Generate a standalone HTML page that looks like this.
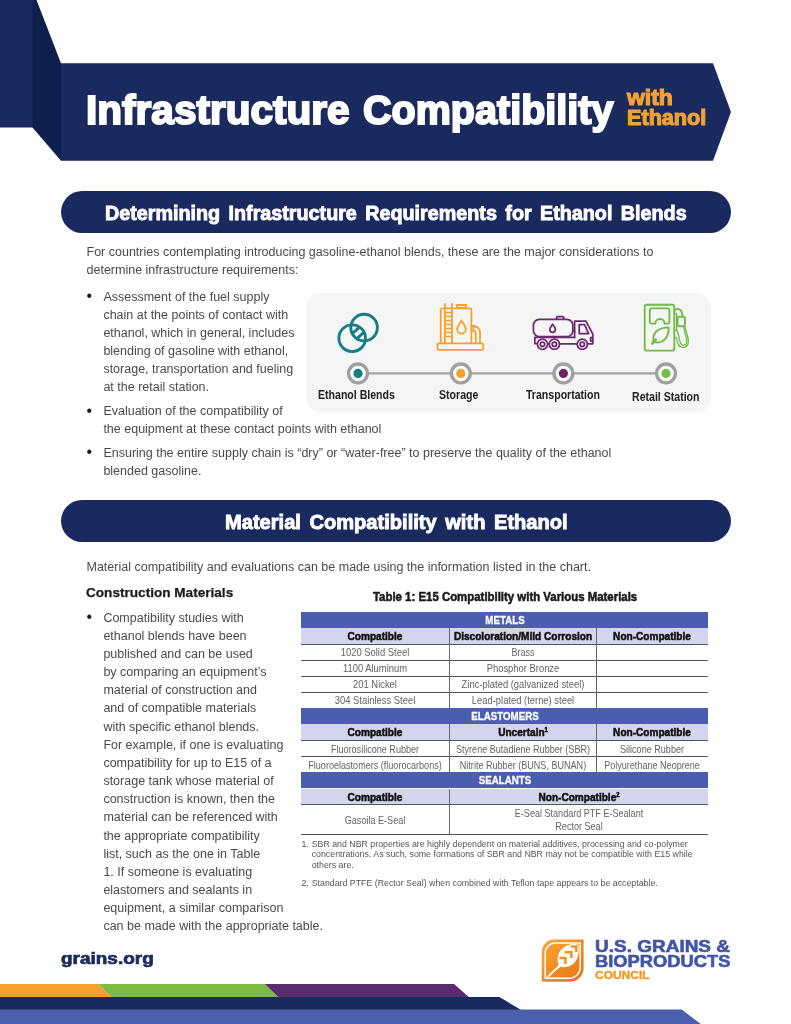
<!DOCTYPE html>
<html lang="en">
<head>
<meta charset="utf-8">
<title>Infrastructure Compatibility with Ethanol</title>
<style>
html,body{margin:0;padding:0;background:#fff;}
body{width:791px;height:1024px;position:relative;overflow:hidden;font-family:"Liberation Sans",sans-serif;color:#3d3d3d;}
.abs{position:absolute;white-space:nowrap;}
.cond{transform-origin:0 0;display:inline-block;}
#bg{position:absolute;left:0;top:0;width:791px;height:1024px;}
.title{left:85.9px;top:85.3px;font-weight:bold;font-size:40.8px;line-height:50px;color:#fff;transform:scaleX(.957);transform-origin:0 0;-webkit-text-stroke:2px #fff;}
.sub{left:627px;font-weight:bold;font-size:22px;line-height:22px;color:#f2a233;transform:scaleX(.91);transform-origin:0 0;-webkit-text-stroke:1.15px #f2a233;}
.pill{position:absolute;left:60.6px;width:670px;height:42.4px;border-radius:21.2px;background:#1b2a5e;}
.ptxt{font-weight:bold;font-size:20px;line-height:24px;color:#fff;transform-origin:0 0;-webkit-text-stroke:0.9px #fff;}
.body{font-size:12.5px;line-height:18.15px;color:#4a4a4a;}
.bul{font-size:15.8px;line-height:18.15px;color:#1a1a1a;}
.lab{font-weight:bold;font-size:12.5px;line-height:14px;color:#222;transform-origin:0 0;}
.th{font-weight:bold;font-size:11.2px;line-height:14px;color:#fff;transform-origin:50% 0;-webkit-text-stroke:0.3px #fff;}
.tsh{font-weight:bold;font-size:11.2px;line-height:14px;color:#111;transform-origin:50% 0;-webkit-text-stroke:0.55px #111;}
.tsh sup{font-size:6.5px;line-height:0;vertical-align:4px;}
.td{font-size:11.2px;line-height:14px;color:#636363;transform-origin:50% 0;}
.fn{font-size:8.8px;line-height:10.3px;color:#555;}
.lg{font-weight:bold;font-size:16.6px;line-height:20px;color:#4055a6;transform-origin:0 0;-webkit-text-stroke:0.6px #4055a6;}
</style>
</head>
<body>
<svg id="bg" viewBox="0 0 791 1024" width="791" height="1024">
  <!-- header -->
  <rect x="0" y="0" width="33" height="127.5" fill="#1b2a5e"/>
  <polygon points="32.5,0 36.5,0 61,63.3 61,160.7 32.5,127.5" fill="#0e1f4e"/>
  <polygon points="60.8,63.3 713,63.3 731,112 713,160.7 60.8,160.7" fill="#1b2a5e"/>

  <!-- infographic panel -->
  <rect x="306" y="293" width="405" height="119.5" rx="15" ry="15" fill="#f5f5f5"/>
  <line x1="358" y1="373.4" x2="666" y2="373.4" stroke="#a3a3a3" stroke-width="2.2"/>
  <g stroke="#a0a0a0" stroke-width="3.3" fill="#fdfdfd">
    <circle cx="358" cy="373.4" r="9.4"/><circle cx="460.8" cy="373.4" r="9.4"/><circle cx="563.4" cy="373.4" r="9.4"/><circle cx="666" cy="373.4" r="9.4"/>
  </g>
  <circle cx="358" cy="373.4" r="4.6" fill="#167c85"/>
  <circle cx="460.8" cy="373.4" r="4.6" fill="#f4a12c"/>
  <circle cx="563.4" cy="373.4" r="4.6" fill="#6a2468"/>
  <circle cx="666" cy="373.4" r="4.6" fill="#73bf44"/>
  <!-- ethanol blends icon -->
  <g fill="none" stroke="#167c85" stroke-width="2.9">
    <circle cx="364.1" cy="327.6" r="13.3"/>
    <circle cx="352.2" cy="338.2" r="13.3"/>
    <path d="M359.2,327.4 L352.4,333.5 M363.9,332.3 L356.9,338.5" stroke-width="3"/>
  </g>
  <!-- storage icon -->
  <g fill="none" stroke="#f4a12c" stroke-width="1.8" stroke-linejoin="round" stroke-linecap="round">
    <rect x="437.6" y="343.4" width="45.6" height="6.4" rx="1"/>
    <path d="M440.7,343 V310.2 a1.8,1.8 0 0 1 1.8,-1.8 H469.6 a1.8,1.8 0 0 1 1.8,1.8 V343"/>
    <path d="M444.9,343 V304 M452,343 V304"/>
    <path d="M444.9,312.5 H452 M444.9,316.5 H452 M444.9,320.5 H452 M444.9,324.5 H452 M444.9,328.5 H452 M444.9,332.5 H452 M444.9,336.5 H452" stroke-width="1.6"/>
    <path d="M456.6,305 H466.4 L465.4,308 H457.6 Z"/>
    <path d="M461.5,320.5 C463.5,324 465.8,326.5 465.8,329.2 a4.3,4.3 0 0 1 -8.6,0 C457.2,326.5 459.5,324 461.5,320.5 Z"/>
    <path d="M471.6,326 H473.5 a6.5,6.5 0 0 1 6.5,6.5 V343 M471.6,330.8 H473.2 a2.6,2.6 0 0 1 2.6,2.6 V343 M473.6,326 V330.8"/>
  </g>
  <!-- truck icon -->
  <g fill="none" stroke="#6c2a6c" stroke-width="1.75" stroke-linejoin="round" stroke-linecap="round">
    <rect x="533.4" y="319.4" width="39.5" height="17.2" rx="6" ry="6"/>
    <path d="M556.6,319.2 V317.4 a0.9,0.9 0 0 1 .9,-.9 H562.8 a0.9,0.9 0 0 1 .9,.9 V319.2"/>
    <path d="M552.6,324.2 C553.8,326.3 555.4,327.8 555.4,329.5 a2.8,2.8 0 0 1 -5.6,0 C549.8,327.8 551.4,326.3 552.6,324.2 Z"/>
    <path d="M574.6,337.4 V321.2 H586 L592.8,334.2 V343.8 H588"/>
    <path d="M579.2,324.6 H584.6 L588.6,333.6 H579.2 Z"/>
    <path d="M572.9,331 H574.6"/>
    <path d="M534.8,337.4 H574.6 M534.8,337.4 V343.6 H537 M548,343.8 H549 M560,343.8 H576.6"/>
    <path d="M590.6,337.6 H592.8 M590.6,341 H592.8 M590.6,337.6 V341"/>
    <circle cx="542.5" cy="344.2" r="5.1"/><circle cx="542.5" cy="344.2" r="2.2"/>
    <circle cx="554.4" cy="344.2" r="5.1"/><circle cx="554.4" cy="344.2" r="2.2"/>
    <circle cx="582.3" cy="344.2" r="5.1"/><circle cx="582.3" cy="344.2" r="2.2"/>
  </g>
  <!-- pump icon -->
  <g fill="none" stroke="#70bb44" stroke-width="1.9" stroke-linejoin="round" stroke-linecap="round">
    <rect x="644.7" y="304.8" width="29.6" height="45.8" rx="2.2"/>
    <path d="M651.4,308.4 H667.8 a1.6,1.6 0 0 1 1.6,1.6 V322 a1.6,1.6 0 0 1 -1.6,1.6 H664.6 a4.6,4.6 0 0 0 -9.2,0 H651.4 a1.6,1.6 0 0 1 -1.6,-1.6 V310 a1.6,1.6 0 0 1 1.6,-1.6 Z"/>
    <path d="M653.6,340.6 C652,333.6 657.6,327.6 668.6,327.4 C669.2,336.2 664.4,343.2 655.4,342.4 Z"/>
    <path d="M655.6,339.8 L652.4,343.4" stroke-width="2.8"/>
    <path d="M674.4,310.4 C676.4,308.2 680.6,308.6 681.6,311.8 L682.6,316"/>
    <rect x="677.6" y="316.8" width="7.4" height="9.4" rx="1.4"/>
    <path d="M674.4,313.6 h2.2 v16.4 h-2.2 M676.6,330 C679.6,333.6 678.4,343.4 682.4,345 C686.6,346 688,341.6 686.2,337.6 L683.4,326.4 M674.4,337.6 h2.2 C677,342.6 679,347.4 683,347.4 C688.6,347.2 689.6,341.4 687.6,336.6 L685,326.4" stroke-width="1.3"/>
  </g>

  <!-- logo -->
  <defs>
    <linearGradient id="lg1" x1="0" y1="0" x2="1" y2="1">
      <stop offset="0" stop-color="#f8a83a"/><stop offset="0.55" stop-color="#f0891c"/><stop offset="1" stop-color="#e2731a"/>
    </linearGradient>
  </defs>
  <path d="M554,939.6 H583.6 V968 A13.7,13.7 0 0 1 569.9,981.7 H541.8 V951.8 A12.2,12.2 0 0 1 554,939.6 Z" fill="url(#lg1)"/>
  <path d="M555.4,943 H580.2 V967.2 A11,11 0 0 1 569.2,978.3 H545.2 V953.2 A10.2,10.2 0 0 1 555.4,943 Z" fill="none" stroke="#fff" stroke-width="1.5"/>
  <path d="M546.8,977 C551,972 555,968.5 558.6,965.2 C555.6,957 559.5,946.6 570.6,944.2 C574.6,943.6 577.6,944.2 578.6,945 C579.6,953.6 577.8,961.6 570.8,965.6 C566.8,967.6 562.8,967.6 560.4,966.8 C556.4,970 552,974 548,977.8 Z" fill="#fff"/>
  <g fill="none" stroke="#f19224" stroke-width="2.5" stroke-linejoin="miter">
    <path d="M570.8,946.6 H576.3 V952"/>
    <path d="M564.6,952.2 H571.4 V958"/>
    <path d="M559.4,958 H565.4 V964"/>
  </g>
  <!-- footer stripes -->
  <polygon points="0,983.9 98,983.9 112.4,998 0,998" fill="#f7a12b"/>
  <polygon points="98,983.9 264.8,983.9 279.2,998 112.4,998" fill="#7fbd42"/>
  <polygon points="264.8,983.9 454,983.9 470,998 279.2,998" fill="#5c2d6e"/>
  <polygon points="0,997.1 499.4,997.1 522,1010.4 0,1010.4" fill="#1b2a5e"/>
  <polygon points="0,1009.5 681.7,1009.5 700.7,1024 0,1024" fill="#4a5fae"/>
</svg>

<div class="abs title" style="transform:scaleX(.994);">Infrastructure</div>
<div class="abs title" style="left:362.6px;transform:scaleX(.969);">Compatibility</div>
<div class="abs sub" style="top:86.6px;transform:scaleX(1.043);">with</div>
<div class="abs sub" style="top:107.2px;transform:scaleX(.983);">Ethanol</div>

<div class="pill" style="top:190.6px;"></div>
<div class="abs ptxt" style="left:105.2px;top:200.5px;word-spacing:3px;transform:scaleX(.9866);">Determining Infrastructure Requirements for Ethanol Blends</div>

<div class="abs body" style="left:86.5px;top:243.2px;">For countries contemplating introducing gasoline-ethanol blends, these are the major considerations to<br>determine infrastructure requirements:</div>

<div class="abs bul" style="left:86.5px;top:286.9px;">•</div>
<div class="abs body" style="left:103.4px;top:287.5px;">Assessment of the fuel supply<br>chain at the points of contact with<br>ethanol, which in general, includes<br>blending of gasoline with ethanol,<br>storage, transportation and fueling<br>at the retail station.</div>
<div class="abs bul" style="left:86.5px;top:401.6px;">•</div>
<div class="abs body" style="left:103.4px;top:402.2px;">Evaluation of the compatibility of<br>the equipment at these contact points with ethanol</div>
<div class="abs bul" style="left:86.5px;top:443.1px;">•</div>
<div class="abs body" style="left:103.4px;top:443.7px;">Ensuring the entire supply chain is “dry” or “water-free” to preserve the quality of the ethanol<br>blended gasoline.</div>


<div class="abs lab" style="left:318px;top:387.6px;transform:scaleX(.845);">Ethanol Blends</div>
<div class="abs lab" style="left:439px;top:387.6px;transform:scaleX(.845);">Storage</div>
<div class="abs lab" style="left:526px;top:388.2px;transform:scaleX(.845);">Transportation</div>
<div class="abs lab" style="left:632px;top:389.6px;transform:scaleX(.845);">Retail Station</div>

<div class="pill" style="top:500px;height:41.8px;"></div>
<div class="abs ptxt" style="left:225.2px;top:509.6px;word-spacing:3px;transform:scaleX(1.004);">Material Compatibility with Ethanol</div>


<div class="abs body" style="left:86.5px;top:557.6px;">Material compatibility and evaluations can be made using the information listed in the chart.</div>
<div class="abs" style="left:86.4px;top:584.6px;font-weight:bold;font-size:13px;line-height:16px;color:#1a1a1a;transform:scaleX(1.045);transform-origin:0 0;-webkit-text-stroke:0.25px #1a1a1a;">Construction Materials</div>
<div class="abs bul" style="left:86.5px;top:608.1px;">•</div>
<div class="abs body" style="left:103.4px;top:608.7px;">Compatibility studies with<br>ethanol blends have been<br>published and can be used<br>by comparing an equipment’s<br>material of construction and<br>and of compatible materials<br>with specific ethanol blends.<br>For example, if one is evaluating<br>compatibility for up to E15 of a<br>storage tank whose material of<br>construction is known, then the<br>material can be referenced with<br>the appropriate compatibility<br>list, such as the one in Table<br>1. If someone is evaluating<br>elastomers and sealants in<br>equipment, a similar comparison<br>can be made with the appropriate table.</div>
<div class="abs" style="left:373.4px;top:589px;font-weight:bold;font-size:12.6px;line-height:16px;color:#1a1a1a;transform:scaleX(.906);transform-origin:0 0;-webkit-text-stroke:0.55px #1a1a1a;">Table 1: E15 Compatibility with Various Materials</div>

<!-- table -->
<div style="position:absolute;left:301.2px;top:612.1px;width:407.0px;height:15.5px;background:#4a5db0;"></div>
<div style="position:absolute;left:301.2px;top:708.2px;width:407.0px;height:16.0px;background:#4a5db0;"></div>
<div style="position:absolute;left:301.2px;top:772.3px;width:407.0px;height:16.2px;background:#4a5db0;"></div>
<div style="position:absolute;left:301.2px;top:627.6px;width:407.0px;height:16.4px;background:#d3d5ec;"></div>
<div style="position:absolute;left:301.2px;top:724.2px;width:407.0px;height:16.0px;background:#d3d5ec;"></div>
<div style="position:absolute;left:301.2px;top:788.5px;width:407.0px;height:16.3px;background:#d3d5ec;"></div>
<div style="position:absolute;left:301.2px;top:643.6px;width:407.0px;height:1.0px;background:#555;"></div>
<div style="position:absolute;left:301.2px;top:659.7px;width:407.0px;height:1.0px;background:#555;"></div>
<div style="position:absolute;left:301.2px;top:675.7px;width:407.0px;height:1.0px;background:#555;"></div>
<div style="position:absolute;left:301.2px;top:691.8px;width:407.0px;height:1.0px;background:#555;"></div>
<div style="position:absolute;left:301.2px;top:739.8px;width:407.0px;height:1.0px;background:#555;"></div>
<div style="position:absolute;left:301.2px;top:755.7px;width:407.0px;height:1.0px;background:#555;"></div>
<div style="position:absolute;left:301.2px;top:804.4px;width:407.0px;height:1.0px;background:#555;"></div>
<div style="position:absolute;left:301.2px;top:833.5px;width:407.0px;height:1.0px;background:#555;"></div>
<div style="position:absolute;left:448.6px;top:627.6px;width:1.2px;height:80.6px;background:#6a6a6a;"></div>
<div style="position:absolute;left:595.6px;top:627.6px;width:1.2px;height:80.6px;background:#6a6a6a;"></div>
<div style="position:absolute;left:448.6px;top:724.2px;width:1.2px;height:48.1px;background:#6a6a6a;"></div>
<div style="position:absolute;left:595.6px;top:724.2px;width:1.2px;height:48.1px;background:#6a6a6a;"></div>
<div style="position:absolute;left:448.6px;top:788.5px;width:1.2px;height:45.5px;background:#6a6a6a;"></div>
<div class="abs th" style="left:354.7px;width:300px;top:612.6px;text-align:center;transform:scaleX(0.87);">METALS</div>
<div class="abs tsh" style="left:225.2px;width:300px;top:628.7px;text-align:center;transform:scaleX(0.9);">Compatible</div>
<div class="abs tsh" style="left:372.7px;width:300px;top:628.7px;text-align:center;transform:scaleX(0.9);">Discoloration/Mild Corrosion</div>
<div class="abs tsh" style="left:502.2px;width:300px;top:628.7px;text-align:center;transform:scaleX(0.9);">Non-Compatible</div>
<div class="abs td" style="left:225.2px;width:300px;top:645.1px;text-align:center;transform:scaleX(0.84);">1020 Solid Steel</div>
<div class="abs td" style="left:372.7px;width:300px;top:645.1px;text-align:center;transform:scaleX(0.81);">Brass</div>
<div class="abs td" style="left:225.2px;width:300px;top:661.1px;text-align:center;transform:scaleX(0.84);">1100 Aluminum</div>
<div class="abs td" style="left:372.7px;width:300px;top:661.1px;text-align:center;transform:scaleX(0.84);">Phosphor Bronze</div>
<div class="abs td" style="left:225.2px;width:300px;top:677.2px;text-align:center;transform:scaleX(0.84);">201 Nickel</div>
<div class="abs td" style="left:372.7px;width:300px;top:677.2px;text-align:center;transform:scaleX(0.84);">Zinc-plated (galvanized steel)</div>
<div class="abs td" style="left:225.2px;width:300px;top:693.3px;text-align:center;transform:scaleX(0.84);">304 Stainless Steel</div>
<div class="abs td" style="left:372.7px;width:300px;top:693.3px;text-align:center;transform:scaleX(0.84);">Lead-plated (terne) steel</div>
<div class="abs th" style="left:354.7px;width:300px;top:708.9px;text-align:center;transform:scaleX(0.87);">ELASTOMERS</div>
<div class="abs tsh" style="left:225.2px;width:300px;top:725.4px;text-align:center;transform:scaleX(0.9);">Compatible</div>
<div class="abs tsh" style="left:372.7px;width:300px;top:725.4px;text-align:center;transform:scaleX(0.9);">Uncertain<sup>1</sup></div>
<div class="abs tsh" style="left:502.2px;width:300px;top:725.4px;text-align:center;transform:scaleX(0.9);">Non-Compatible</div>
<div class="abs td" style="left:225.2px;width:300px;top:741.7px;text-align:center;transform:scaleX(0.81);">Fluorosilicone Rubber</div>
<div class="abs td" style="left:372.7px;width:300px;top:741.7px;text-align:center;transform:scaleX(0.81);">Styrene Butadiene Rubber (SBR)</div>
<div class="abs td" style="left:502.2px;width:300px;top:741.7px;text-align:center;transform:scaleX(0.81);">Silicone Rubber</div>
<div class="abs td" style="left:225.2px;width:300px;top:757.7px;text-align:center;transform:scaleX(0.81);">Fluoroelastomers (fluorocarbons)</div>
<div class="abs td" style="left:372.7px;width:300px;top:757.7px;text-align:center;transform:scaleX(0.81);">Nitrite Rubber (BUNS, BUNAN)</div>
<div class="abs td" style="left:502.2px;width:300px;top:757.7px;text-align:center;transform:scaleX(0.81);">Polyurethane Neoprene</div>
<div class="abs th" style="left:354.7px;width:300px;top:773.1px;text-align:center;transform:scaleX(0.87);">SEALANTS</div>
<div class="abs tsh" style="left:225.2px;width:300px;top:789.7px;text-align:center;transform:scaleX(0.9);">Compatible</div>
<div class="abs tsh" style="left:428.7px;width:300px;top:789.7px;text-align:center;transform:scaleX(0.9);">Non-Compatible<sup>2</sup></div>
<div class="abs td" style="left:225.2px;width:300px;top:812.5px;text-align:center;transform:scaleX(0.81);">Gasoila E-Seal</div>
<div class="abs td" style="left:428.7px;width:300px;top:806.0px;text-align:center;transform:scaleX(0.81);">E-Seal Standard PTF E-Sealant</div>
<div class="abs td" style="left:428.7px;width:300px;top:819.0px;text-align:center;transform:scaleX(0.81);">Rector Seal</div>

<div class="abs fn" style="left:301.6px;top:839.2px;">1.</div>
<div class="abs fn" style="left:311.7px;top:839.2px;">SBR and NBR properties are highly dependent on material additives, processing and co-polymer<br>concentrations. As such, some formations of SBR and NBR may not be compatible with E15 while<br>others are.</div>
<div class="abs fn" style="left:301.6px;top:877.9px;">2.</div>
<div class="abs fn" style="left:311.7px;top:877.9px;">Standard PTFE (Rector Seal) when combined with Teflon tape appears to be acceptable.</div>

<div class="abs" style="left:61.4px;top:948.3px;font-weight:bold;font-size:16px;line-height:22px;color:#1b2a5e;transform:scaleX(1.185);transform-origin:0 0;-webkit-text-stroke:0.7px #1b2a5e;">grains.org</div>
<div class="abs lg" style="left:594.6px;top:936.6px;transform:scaleX(1.144);">U.S. GRAINS &amp;</div>
<div class="abs lg" style="left:594.6px;top:952px;transform:scaleX(1.104);">BIOPRODUCTS</div>
<div class="abs" style="left:594.8px;top:970.2px;font-weight:bold;font-size:10.4px;line-height:12px;color:#f29a1f;transform:scaleX(1.153);transform-origin:0 0;-webkit-text-stroke:0.35px #f29a1f;">COUNCIL</div>

</body>
</html>
